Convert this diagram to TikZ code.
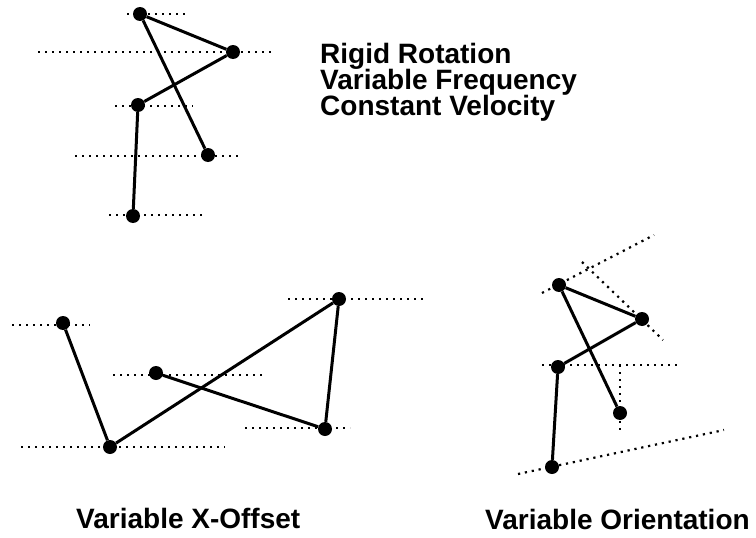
\documentclass[tikz,border=0pt]{standalone}
\usepackage{fontspec}
\setmainfont{Liberation Sans}
\begin{document}
\begin{tikzpicture}[x=1pt,y=-1pt,
  dot/.style={circle,fill=black,inner sep=0pt,minimum size=14pt},
  link/.style={line width=3pt},
  guide/.style={line width=2.2pt,dash pattern=on 2.2pt off 4.8pt},
  lbl/.style={font=\fontsize{28}{26}\selectfont\bfseries,anchor=base west,inner sep=0pt}]
\useasboundingbox (0,0) rectangle (756,538);
% ---------- top figure: rigid rotation ----------
\coordinate (ga1) at (127,14);  \coordinate (ga2) at (185,14);
\coordinate (gb1) at (38,52);   \coordinate (gb2) at (272,52);
\coordinate (gc1) at (115,106); \coordinate (gc2) at (193,106);
\coordinate (gd1) at (75,156);  \coordinate (gd2) at (238,156);
\coordinate (ge1) at (109,215); \coordinate (ge2) at (203,215);
\foreach \g in {a,b,c,d,e} \draw[guide] (g\g1) -- (g\g2);
\node[dot] (A) at (140,14) {};
\node[dot] (B) at (233,52) {};
\node[dot] (C) at (138,105) {};
\node[dot] (D) at (208,155) {};
\node[dot] (E) at (133,216) {};
\draw[link] (A) -- (B);
\draw[link] (A) -- (D);
\draw[link] (B) -- (C);
\draw[link] (C) -- (E);
\node[lbl] (t1) at (320,63) {Rigid Rotation};
\node[lbl] (t2) at (320,89) {Variable Frequency};
\node[lbl] (t3) at (320,115) {Constant Velocity};
% ---------- bottom left: variable x-offset ----------
\coordinate (gp11) at (12,325);  \coordinate (gp12) at (90,325);
\coordinate (gp21) at (21,447);  \coordinate (gp22) at (225,447);
\coordinate (gp31) at (113,375); \coordinate (gp32) at (262,375);
\coordinate (gp41) at (288,299); \coordinate (gp42) at (423,299);
\coordinate (gp51) at (245,428); \coordinate (gp52) at (350,428);
\foreach \g in {1,...,5} \draw[guide] (gp\g1) -- (gp\g2);
\node[dot] (P1) at (63,323) {};
\node[dot] (P2) at (110,447) {};
\node[dot] (P3) at (156,373) {};
\node[dot] (P4) at (339,299) {};
\node[dot] (P5) at (325,429) {};
\draw[link] (P1) -- (P2);
\draw[link] (P2) -- (P4);
\draw[link] (P4) -- (P5);
\draw[link] (P5) -- (P3);
\node[lbl] (t4) at (76,528) {Variable X-Offset};
% ---------- bottom right: variable orientation ----------
\coordinate (gq11) at (542,293); \coordinate (gq12) at (654,235);
\coordinate (gq21) at (582,262); \coordinate (gq22) at (663,340);
\coordinate (gq31) at (542,365); \coordinate (gq32) at (677,365);
\coordinate (gq41) at (620,365); \coordinate (gq42) at (620,433);
\coordinate (gq51) at (518,474); \coordinate (gq52) at (724,430);
\foreach \g in {1,...,5} \draw[guide] (gq\g1) -- (gq\g2);
\node[dot] (Q1) at (559,285) {};
\node[dot] (Q2) at (642,319) {};
\node[dot] (Q3) at (558,367) {};
\node[dot] (Q4) at (620,413) {};
\node[dot] (Q5) at (552,467) {};
\draw[link] (Q1) -- (Q2);
\draw[link] (Q1) -- (Q4);
\draw[link] (Q2) -- (Q3);
\draw[link] (Q3) -- (Q5);
\node[lbl] (t5) at (485,529) {Variable Orientation};
\end{tikzpicture}
\end{document}
